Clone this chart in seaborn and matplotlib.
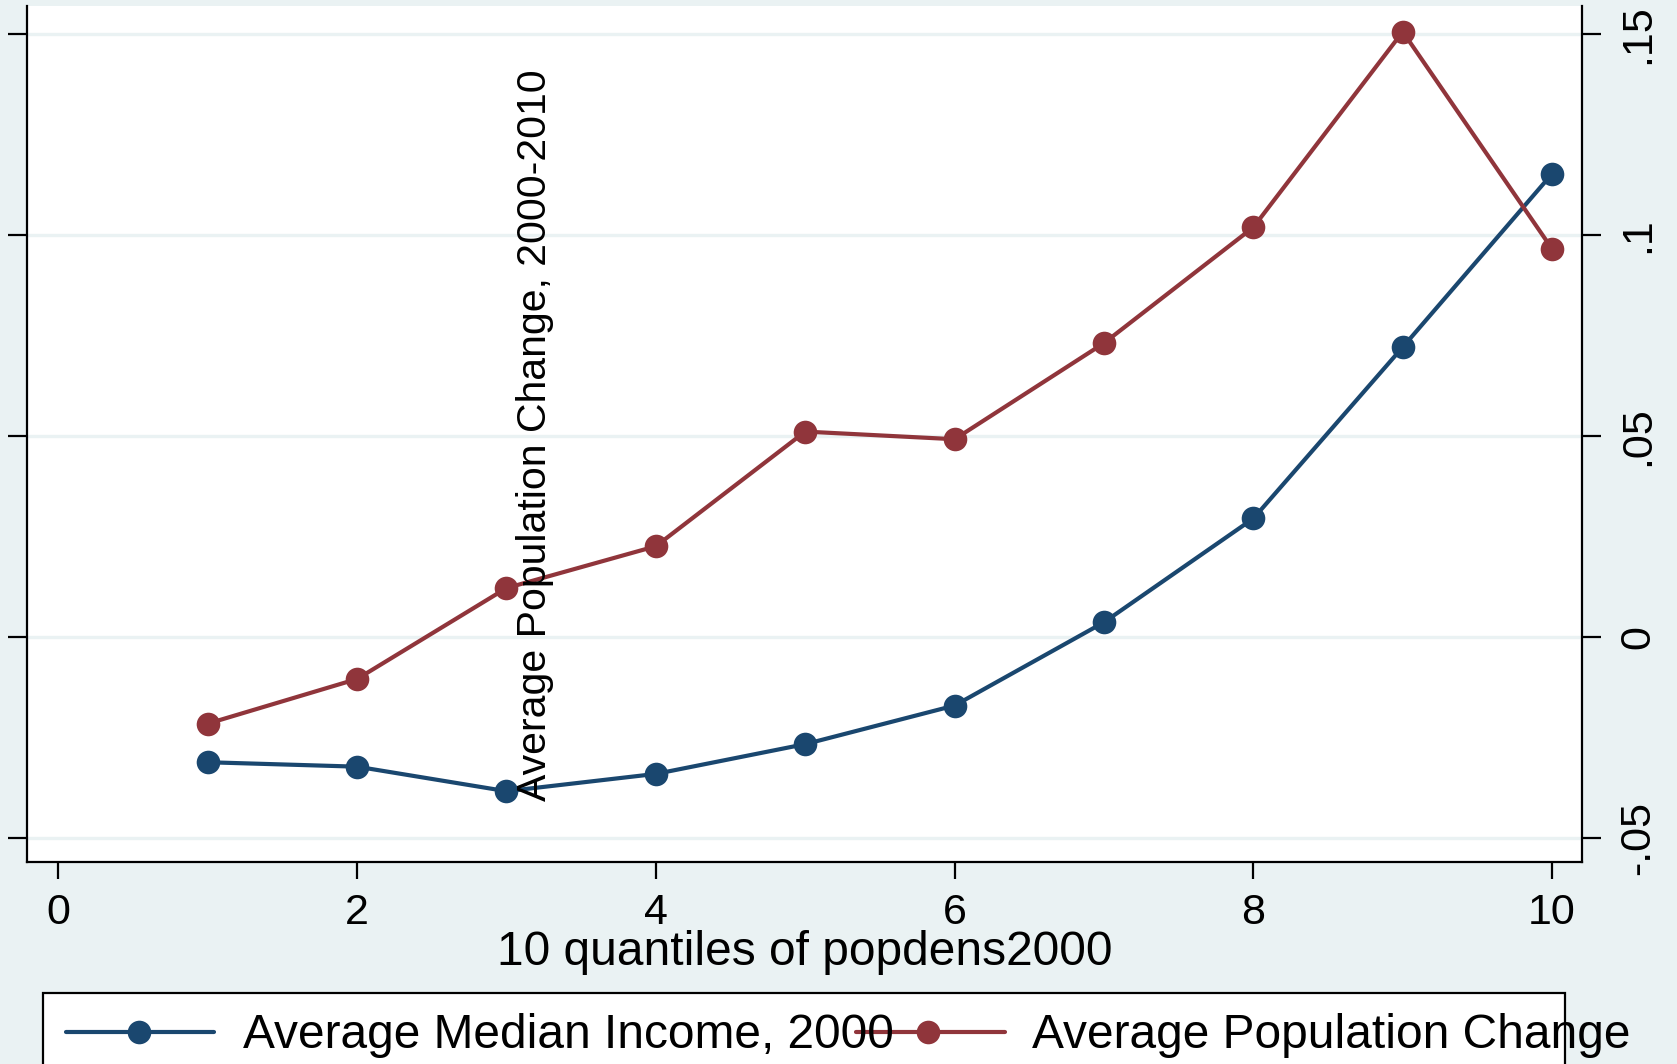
import matplotlib
matplotlib.use("Agg")
import matplotlib.pyplot as plt
from matplotlib import font_manager as fm
import seaborn as sns
import pandas as pd
from matplotlib.lines import Line2D
from matplotlib.patches import Rectangle

# ---- data ----
quantiles = [1, 2, 3, 4, 5, 6, 7, 8, 9, 10]
median_income = [-0.0311, -0.0322, -0.0383, -0.0340, -0.0266, -0.0170, 0.0037, 0.0295, 0.0721, 0.1152]
pop_change = [-0.0215, -0.0104, 0.0122, 0.0226, 0.0511, 0.0492, 0.0731, 0.1019, 0.1505, 0.0965]
series_names = ["Average Median Income, 2000", "Average Population Change"]
y_ticks = [-0.05, 0, 0.05, 0.1, 0.15]
y_ticklabels = ["-.05", "0", ".05", ".1", ".15"]
x_ticks = [0, 2, 4, 6, 8, 10]
x_label = "10 quantiles of popdens2000"
y_label = "Average Population Change, 2000-2010"

BLUE = "#1A476F"
RED = "#90353B"
BG = "#EAF2F3"
W, H = 1677, 1064

sns.set_theme(style="white")
plt.rcParams["font.family"] = ["Liberation Sans", "DejaVu Sans"]
plt.rcParams["text.color"] = "black"
plt.rcParams["axes.labelcolor"] = "black"
plt.rcParams["xtick.color"] = "black"
plt.rcParams["ytick.color"] = "black"

names = {f.name for f in fm.fontManager.ttflist}
narrow_ok = "Liberation Sans Narrow" in names
NARROW = ["Liberation Sans Narrow", "Liberation Sans", "DejaVu Sans"] if narrow_ok \
    else ["Liberation Sans", "DejaVu Sans"]

df = pd.DataFrame({
    "q": quantiles * 2,
    "v": median_income + pop_change,
    "s": [series_names[0]] * len(quantiles) + [series_names[1]] * len(quantiles),
})

fig = plt.figure(figsize=(W / 100, H / 100), dpi=100, facecolor=BG)
ax = fig.add_axes([27 / W, 1 - 862 / H, (1582 - 27) / W, (862 - 6) / H])
ax.set_facecolor("white")

sns.lineplot(data=df, x="q", y="v", hue="s", palette=[BLUE, RED], marker="o",
             markersize=17, markeredgewidth=0, linewidth=3.0, legend=False, ax=ax,
             zorder=3)

ax.set_xlim(-0.21, 10.2)
ax.set_ylim(-0.0559, 0.1569)
ax.set_yticks(y_ticks)
ax.set_yticklabels(y_ticklabels, rotation=90, va="center",
                   fontsize=36 if narrow_ok else 31, family=NARROW)
ax.set_xticks(x_ticks)
ax.set_xticklabels([str(t) for t in x_ticks], fontsize=31)
ax.grid(axis="y", color=BG, linewidth=2.4)
ax.grid(axis="x", visible=False)
ax.set_axisbelow(True)

for s in ["left", "bottom", "right"]:
    ax.spines[s].set_visible(True)
    ax.spines[s].set_color("black")
    ax.spines[s].set_linewidth(1.6)
ax.spines["top"].set_visible(False)

ax.tick_params(axis="y", left=True, right=True, labelleft=False, labelright=True,
               direction="out", length=14, width=1.6, color="black", pad=12)
ax.tick_params(axis="x", bottom=True, direction="out", length=12, width=1.6,
               color="black", pad=10)
ax.set_xlabel(x_label, fontsize=34.5, labelpad=-2)
ax.set_ylabel("")

# misplaced y-axis title as in the reference
fig.text(535 / W, 1 - 435 / H, y_label, rotation=90, ha="center", va="center",
         fontsize=35 if narrow_ok else 29.5, family=NARROW)

# ---- legend box (cut at the bottom) ----
def fx(x):
    return x / W

def fy(y):
    return 1 - y / H

fig.add_artist(Rectangle((fx(43), fy(1120)), fx(1565) - fx(43), fy(993) - fy(1120),
                         transform=fig.transFigure, facecolor="white",
                         edgecolor="black", linewidth=1.6, clip_on=False))
ly = 1032
fig.add_artist(Line2D([fx(66), fx(214)], [fy(ly), fy(ly)], transform=fig.transFigure,
                      color=BLUE, linewidth=3.0))
fig.add_artist(Line2D([fx(139)], [fy(ly)], transform=fig.transFigure, color=BLUE,
                      marker="o", markersize=17, markeredgewidth=0))
fig.text(fx(243), fy(ly + 3), series_names[0], fontsize=34.5, va="center", ha="left")
fig.add_artist(Line2D([fx(856), fx(1005)], [fy(ly), fy(ly)], transform=fig.transFigure,
                      color=RED, linewidth=3.0))
fig.add_artist(Line2D([fx(928)], [fy(ly)], transform=fig.transFigure, color=RED,
                      marker="o", markersize=17, markeredgewidth=0))
fig.text(fx(1032), fy(ly + 3), series_names[1], fontsize=34.5, va="center", ha="left")

fig.savefig("out.png", dpi=100, facecolor=BG)
